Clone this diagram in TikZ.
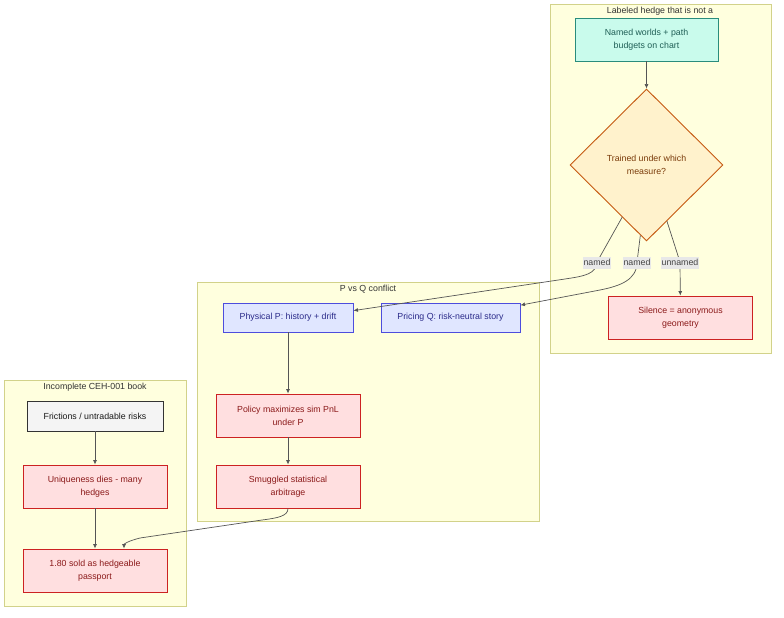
\documentclass[tikz,border=0pt]{standalone}
\usepackage{fontspec}
\setmainfont{Liberation Sans}
\usetikzlibrary{shapes.geometric,arrows.meta,calc}

\definecolor{clfill}{HTML}{FFFFDE}
\definecolor{clline}{HTML}{D2D28A}
\definecolor{tealfill}{HTML}{C9FBEC}
\definecolor{tealline}{HTML}{2A8C7C}
\definecolor{tealtext}{HTML}{1F5F56}
\definecolor{decfill}{HTML}{FFF2CC}
\definecolor{decline}{HTML}{C55A11}
\definecolor{dectext}{HTML}{7A3B0A}
\definecolor{redfill}{HTML}{FFDFE0}
\definecolor{redline}{HTML}{CC2222}
\definecolor{redtext}{HTML}{8B1A1A}
\definecolor{bluefill}{HTML}{E0E6FF}
\definecolor{blueline}{HTML}{4D4DDD}
\definecolor{bluetext}{HTML}{2B2B8A}
\definecolor{grayfill}{HTML}{F4F4F4}
\definecolor{edgecol}{HTML}{555555}
\definecolor{lblfill}{HTML}{E8E8E8}
\definecolor{lbltext}{HTML}{444444}

\tikzset{
  box/.style={rectangle, draw, line width=0.9pt, align=center, inner sep=0pt,
    font=\fontsize{8.8}{13}\selectfont},
  redbox/.style={box, fill=redfill, draw=redline, text=redtext,
    minimum width=144pt, minimum height=43pt},
  bluebox/.style={box, fill=bluefill, draw=blueline, text=bluetext,
    minimum height=29pt},
  cluster/.style={fill=clfill, draw=clline, line width=0.8pt},
  cltitle/.style={text=black!80, font=\fontsize{8.8}{11}\selectfont, inner sep=0pt},
  edge/.style={draw=edgecol, line width=0.7pt, -{Latex[length=4.5pt,width=4pt]}},
  lbl/.style={fill=lblfill, text=lbltext, inner xsep=1pt, inner ysep=0pt,
    minimum height=12pt, yshift=-0.5pt, font=\fontsize{8.8}{11}\selectfont}
}

\begin{document}
\begin{tikzpicture}[x=1pt, y=-1pt]
        \useasboundingbox (0,0) rectangle (784,618);

        % Labeled hedge
        \draw[cluster] (550,4) rectangle (771,353);
        \node[cltitle] (tlab) at (660,11) {Labeled hedge that is not a};
        \node[box, fill=tealfill, draw=tealline, text=tealtext,
              minimum width=143pt, minimum height=43pt] (worlds) at (646.5,39.5)
              {Named worlds + path\\budgets on chart};
        \node[diamond, draw=decline, fill=decfill, text=dectext, line width=0.9pt,
              minimum width=153pt, minimum height=152pt, inner sep=0pt, align=center,
              font=\fontsize{8.8}{13}\selectfont] (dec) at (646.5,165)
              {Trained under which\\measure?};
        \node[redbox] (silence) at (680.5,317.5) {Silence = anonymous\\geometry};

        % P vs Q
        \draw[cluster] (197,282) rectangle (539,521);
        \node[cltitle] (tpq) at (368,289) {P vs Q conflict};
        \node[bluebox, minimum width=130pt] (phys) at (288,317.5) {Physical P: history + drift};
        \node[bluebox, minimum width=139pt] (pricq) at (450.5,317.5) {Pricing Q: risk-neutral story};
        \node[redbox] (policy) at (288,415.5) {Policy maximizes sim PnL\\under P};
        \node[redbox] (smug) at (288,486.5) {Smuggled statistical\\arbitrage};

        % Incomplete book
        \draw[cluster] (4,380) rectangle (186,606);
        \node[cltitle] (tbook) at (95,387) {Incomplete CEH-001 book};
        \node[box, fill=grayfill, draw=black!80, text=black!90,
              minimum width=136pt, minimum height=30pt] (frict) at (95,416)
              {Frictions / untradable risks};
        \node[redbox] (uniq) at (95,486.5) {Uniqueness dies - many\\hedges};
        \node[redbox] (sold) at (95,570.5) {1.80 sold as hedgeable\\passport};

        % Kanten
        \draw[edge] (worlds) -- (dec);
        \draw[edge] (dec.-115) -- (597,262) node[lbl] (ln1) {named}
              .. controls (596,274) and (585,276) .. (565,279) -- (phys.6);
        \draw[edge] (dec.-95) -- (637,262) node[lbl] (ln2) {named}
              .. controls (637,280) and (620,286) .. (600,290) -- (pricq.10);
        \draw[edge] (dec.-70) -- (680,262) node[lbl] (ln3) {unnamed}
              -- (silence);
        \draw[edge] (phys) -- (policy);
        \draw[edge] (policy) -- (smug);
        \draw[edge] (smug.south) .. controls (288,516) and (278,518) .. (262,520)
              -- (140,538) .. controls (128,541) and (124,544) .. ([xshift=29pt]sold.north);
        \draw[edge] (frict) -- (uniq);
        \draw[edge] (uniq) -- (sold);
    \end{tikzpicture}
\end{document}
